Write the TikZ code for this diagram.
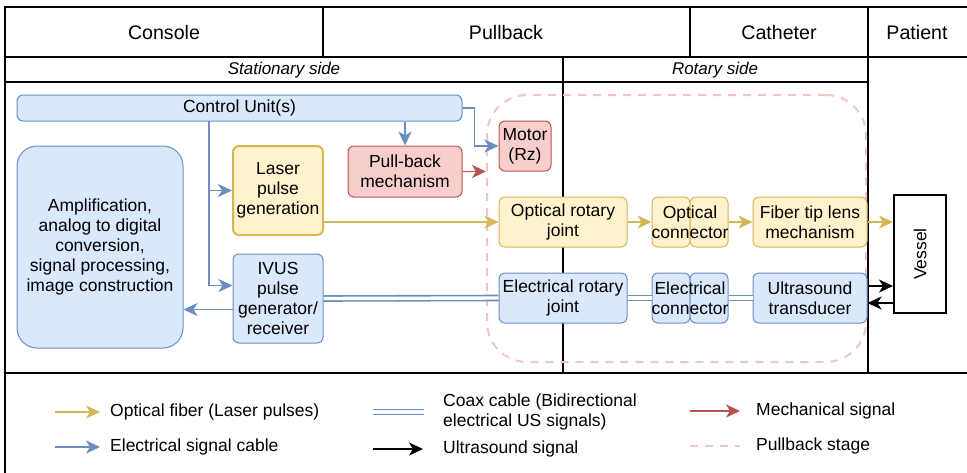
\documentclass[tikz,border=0pt]{standalone}
\usepackage{fontspec}
\setmainfont{Liberation Sans}
\usetikzlibrary{arrows.meta}

\definecolor{bluefill}{HTML}{DAE8FC}
\definecolor{blueline}{HTML}{6C8EBF}
\definecolor{yellowfill}{HTML}{FFF2CC}
\definecolor{yellowline}{HTML}{D6B656}
\definecolor{redfill}{HTML}{F8CECC}
\definecolor{redline}{HTML}{B85450}
\definecolor{stagepink}{HTML}{F2C4C4}

\begin{document}
\begin{tikzpicture}[x=1pt, y=-1pt,
    every node/.style={font=\fontsize{17.5}{20}\selectfont},
    frame/.style={line width=1.3pt},
    head/.style={font=\fontsize{19.6}{24}\selectfont},
    side/.style={font=\fontsize{17}{20}\selectfont\itshape},
    block/.style={draw, rounded corners=6pt, line width=1pt, align=center, inner sep=0pt},
    bluebox/.style={block, draw=blueline, fill=bluefill},
    yellowbox/.style={block, draw=yellowline, fill=yellowfill},
    redbox/.style={block, draw=redline, fill=redfill},
    sigarrow/.style={-{Stealth[length=14pt,width=13pt,inset=4pt]}, line width=1.8pt},
    elec/.style={sigarrow, draw=blueline},
    optic/.style={sigarrow, draw=yellowline},
    mech/.style={sigarrow, draw=redline},
    us/.style={sigarrow, draw=black},
    coax/.style={line width=1.6pt, draw=blueline, double=white, double distance=3.4pt},
    stageline/.style={draw=stagepink, line width=2pt, dash pattern=on 8pt off 7pt},
    legtext/.style={anchor=west, align=left, inner sep=0pt}]
    \useasboundingbox (0,0) rectangle (967,472);

    % table of columns
    \draw[frame] (5,480) -- (5,7) -- (975,7);
    \draw[frame] (5,57) -- (975,57);
    \draw[frame] (5,82) -- (868,82);
    \draw[frame] (5,373) -- (975,373);
    \draw[frame] (323,7) -- (323,57);
    \draw[frame] (690,7) -- (690,57);
    \draw[frame] (868,7) -- (868,373);
    \draw[frame] (563,57) -- (563,373);
    \node[head] (console) at (164,32) {Console};
    \node[head] (pullback) at (506,32) {Pullback};
    \node[head] (catheter) at (779,32) {Catheter};
    \node[head] (patient) at (917,32) {Patient};
    \node[side] (stationary) at (284,70) {Stationary side};
    \node[side] (rotary) at (715,70) {Rotary side};

    % pullback stage
    \node[stageline, rounded corners=40pt, minimum width=379pt, minimum height=267pt, inner sep=0pt] (stage) at (676.5,228.5) {};

    % console blocks
    \node[bluebox, minimum width=445pt, minimum height=26pt] (ctrl) at (239.5,108) {Control Unit(s)};
    \node[bluebox, rounded corners=20pt, minimum width=166pt, minimum height=202pt] (amp) at (100,247) {Amplification,\\analog to digital\\conversion,\\signal processing,\\image construction};
    \node[yellowbox, line width=2pt, minimum width=90pt, minimum height=89pt] (laser) at (278,190.5) {Laser\\pulse\\generation};
    \node[bluebox, minimum width=90pt, minimum height=89pt] (ivus) at (278,298.5) {IVUS\\pulse\\generator/\\receiver};
    \node[redbox, minimum width=114pt, minimum height=51pt] (pullmech) at (405,171.5) {Pull-back\\mechanism};

    % rotary side
    \node[redbox, minimum width=52pt, minimum height=50pt] (motor) at (525,146) {Motor\\(Rz)};
    \node[yellowbox, minimum width=128pt, minimum height=50pt] (orj) at (563,222) {Optical rotary\\joint};
    \node[yellowbox, minimum width=38pt, minimum height=50pt] (oca) at (671,222) {};
    \node[yellowbox, minimum width=38pt, minimum height=50pt] (ocb) at (709,222) {};
    \node[align=center, inner sep=0pt] (oc) at (690,222) {Optical\\connector};
    \node[yellowbox, minimum width=114pt, minimum height=50pt] (lens) at (810,222) {Fiber tip lens\\mechanism};
    \node[bluebox, minimum width=128pt, minimum height=50pt] (erj) at (563,298) {Electrical rotary\\joint};
    \node[bluebox, minimum width=38pt, minimum height=50pt] (eca) at (671,298) {};
    \node[bluebox, minimum width=38pt, minimum height=50pt] (ecb) at (709,298) {};
    \node[align=center, inner sep=0pt] (ec) at (690,298) {Electrical\\connector};
    \node[bluebox, minimum width=114pt, minimum height=50pt] (ust) at (810,298) {Ultrasound\\transducer};

    % patient
    \node[draw, line width=2pt, fill=white, minimum width=52pt, minimum height=118pt] (vessel) at (920,254) {};
    \node[rotate=90] (vesseltext) at (vessel.center) {Vessel};

    % control lines
    \coordinate (feed) at (209,121);
    \draw[elec] (feed) |- (laser.west);
    \draw[elec] (feed) |- ([yshift=13pt]ivus.west);
    \draw[elec] (ctrl.south -| pullmech.north) -- (pullmech.north);
    \draw[elec] (ctrl.east) -- ++(12,0) |- (motor.west);
    \draw[mech] (pullmech.east) -- (pullmech.east -| stage.west);
    \draw[elec] ([yshift=-11pt]ivus.west) -- ([yshift=-11pt]ivus.west -| amp.east);

    % optical path
    \draw[optic] (laser.east |- orj.west) -- (orj.west);
    \draw[optic] (orj.east) -- (oca.west);
    \draw[optic] (ocb.east) -- (lens.west);
    \draw[optic] (lens.east) -- (lens.east -| vessel.west);

    % ultrasound path
    \draw[coax] (ivus.east) -- (erj.west);
    \draw[coax] (erj.east) -- (eca.west);
    \draw[coax] (ecb.east) -- (ust.west);
    \draw[us] ([yshift=12pt]ust.east) -- ([yshift=12pt]ust.east -| vessel.west);
    \draw[us] ([yshift=-5pt]ust.east -| vessel.west) -- ([yshift=-5pt]ust.east);

    % legend
    \node[legtext] (l-optic) at (110,412) {Optical fiber (Laser pulses)};
    \draw[optic] ([xshift=-55pt]l-optic.west) -- ([xshift=-10pt]l-optic.west);
    \node[legtext] (l-elec) at (110,447) {Electrical signal cable};
    \draw[elec] ([xshift=-55pt]l-elec.west) -- ([xshift=-10pt]l-elec.west);
    \node[legtext] (l-coax) at (443,412) {Coax cable (Bidirectional\\electrical US signals)};
    \draw[coax] ([xshift=-70pt]l-coax.west) -- ([xshift=-19pt]l-coax.west);
    \node[legtext] (l-us) at (443,449) {Ultrasound signal};
    \draw[us] ([xshift=-70pt]l-us.west) -- ([xshift=-20pt]l-us.west);
    \node[legtext] (l-mech) at (756,411) {Mechanical signal};
    \draw[mech] ([xshift=-66pt]l-mech.west) -- ([xshift=-16pt]l-mech.west);
    \node[legtext] (l-stage) at (756,446) {Pullback stage};
    \draw[stageline] ([xshift=-66pt]l-stage.west) -- ([xshift=-16pt]l-stage.west);
\end{tikzpicture}
\end{document}
